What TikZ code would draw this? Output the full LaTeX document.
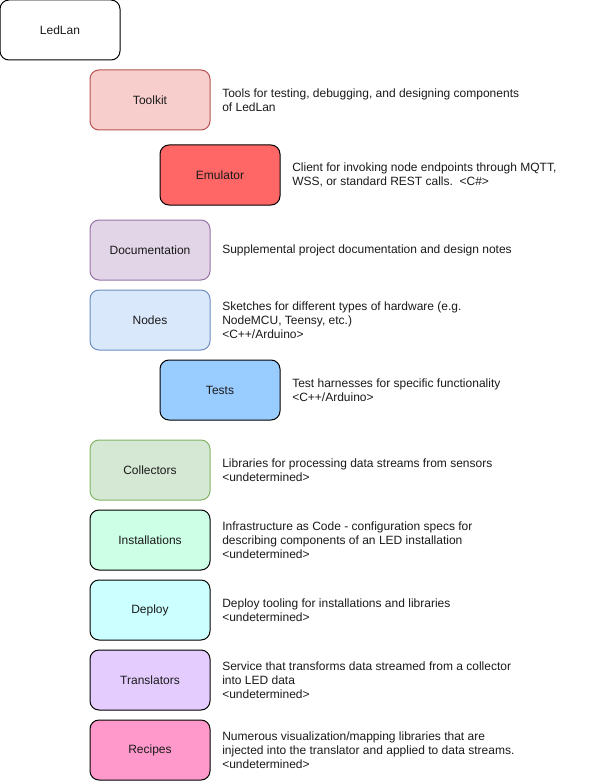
\documentclass[tikz,border=0pt]{standalone}
\usepackage{fontspec}
\setmainfont{Liberation Sans}
\usetikzlibrary{positioning}
\definecolor{txt}{HTML}{1A1A1A}
\definecolor{tkF}{HTML}{F8CECC}\definecolor{tkD}{HTML}{B85450}
\definecolor{emF}{HTML}{FF6666}
\definecolor{doF}{HTML}{E1D5E7}\definecolor{doD}{HTML}{9673A6}
\definecolor{noF}{HTML}{DAE8FC}\definecolor{noD}{HTML}{6C8EBF}
\definecolor{teF}{HTML}{99CCFF}
\definecolor{coF}{HTML}{D5E8D4}\definecolor{coD}{HTML}{82B366}
\definecolor{inF}{HTML}{CCFFE6}
\definecolor{deF}{HTML}{CCFFFF}
\definecolor{trF}{HTML}{E5CCFF}
\definecolor{reF}{HTML}{FF99CC}
\tikzset{
  box/.style={draw=black, line width=0.75pt, rounded corners=6.75pt,
    minimum width=90pt, minimum height=45pt, inner sep=0pt,
    font=\fontsize{9}{10.5}\selectfont, text=txt},
  desc/.style={anchor=west, align=left, inner sep=0pt,
    font=\fontsize{9}{10.5}\selectfont, text=txt},
}
\begin{document}
\begin{tikzpicture}[x=0.75pt,y=-0.75pt]
\useasboundingbox (0,0) rectangle (591,781);
\node[box, fill=white] (ledlan) at (60,30) {LedLan};
\node[box, fill=tkF, draw=tkD] (toolkit) at (150,100) {Toolkit};
\node[box, fill=emF] (emulator) at (220,175) {Emulator};
\node[box, fill=doF, draw=doD] (doc) at (150,250) {Documentation};
\node[box, fill=noF, draw=noD] (nodes) at (150,320) {Nodes};
\node[box, fill=teF] (tests) at (220,390) {Tests};
\node[box, fill=coF, draw=coD] (coll) at (150,470) {Collectors};
\node[box, fill=inF] (inst) at (150,540) {Installations};
\node[box, fill=deF] (deploy) at (150,610) {Deploy};
\node[box, fill=trF] (trans) at (150,680) {Translators};
\node[box, fill=reF] (recipes) at (150,750) {Recipes};

\node[desc] (dtoolkit) at (222,100) {Tools for testing, debugging, and designing components\\of LedLan};
\node[desc] (demulator) at (292,175) {Client for invoking node endpoints through MQTT,\\WSS, or standard REST calls.\ \ <C\#>};
\node[desc] (ddoc) at (222,250) {Supplemental project documentation and design notes};
\node[desc] (dnodes) at (222,320) {Sketches for different types of hardware (e.g.\\NodeMCU, Teensy, etc.)\\<C++/Arduino>};
\node[desc] (dtests) at (292,390) {Test harnesses for specific functionality\\<C++/Arduino>};
\node[desc] (dcoll) at (222,470) {Libraries for processing data streams from sensors\\<undetermined>};
\node[desc] (dinst) at (222,540) {Infrastructure as Code - configuration specs for\\describing components of an LED installation\\<undetermined>};
\node[desc] (ddeploy) at (222,610) {Deploy tooling for installations and libraries\\<undetermined>};
\node[desc] (dtrans) at (222,680) {Service that transforms data streamed from a collector\\into LED data\\<undetermined>};
\node[desc] (drecipes) at (222,750) {Numerous visualization/mapping libraries that are\\injected into the translator and applied to data streams.\\<undetermined>};
\end{tikzpicture}
\end{document}
